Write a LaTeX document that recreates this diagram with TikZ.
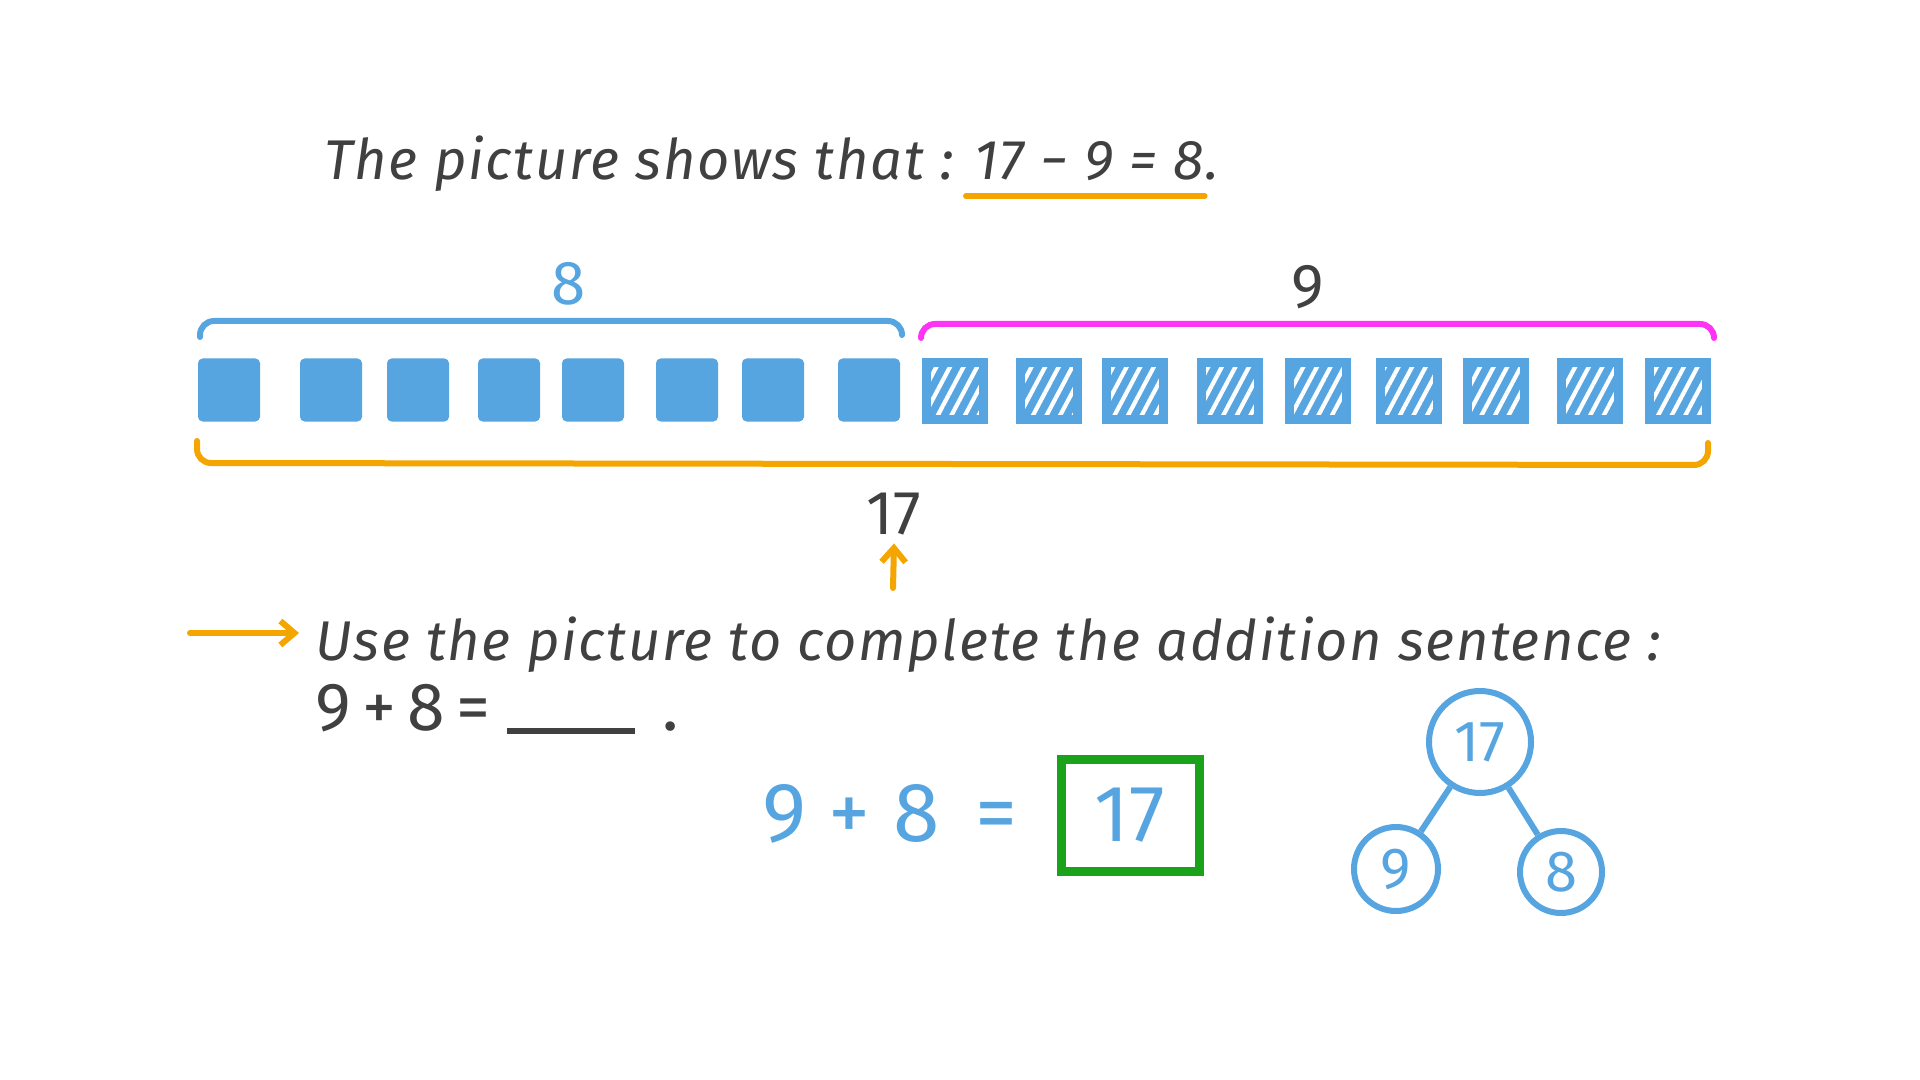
\documentclass[tikz,border=0pt]{standalone}
\usepackage{fontspec}
\setmainfont{Fira Sans}
\newfontfamily\handfont[LetterSpace=3]{Fira Sans}
\usetikzlibrary{patterns.meta,arrows.meta}
\definecolor{ink}{HTML}{404040}
\definecolor{bl}{HTML}{57A5E0}
\definecolor{mag}{HTML}{FF33F5}
\definecolor{org}{HTML}{F5A500}
\definecolor{grn}{HTML}{1AA31A}
\tikzset{
  solidsq/.style={draw=bl, fill=bl, line width=2pt, rounded corners=1.5pt,
    minimum width=29pt, minimum height=29.5pt, inner sep=0pt},
  hatchsq/.style={fill=bl, minimum size=28.5pt, inner sep=0pt,
    postaction={pattern={Lines[angle=62,distance=6pt,line width=2.1pt]}, pattern color=white},
    postaction={draw=bl, line width=4.5pt, rounded corners=1.5pt}},
  brace/.style={line width=3pt, rounded corners=7pt, line cap=round},
  txt/.style={text=ink, font=\handfont\itshape\fontsize{28}{32}\selectfont, inner sep=0pt, anchor=base west},
  num/.style={font=\fontsize{31}{36}\selectfont, inner sep=0pt},
  ring/.style={circle, draw=bl, line width=3pt, text=bl, font=\fontsize{29}{32}\selectfont, inner sep=0pt},
  harrow/.style={org, line width=3pt, line cap=round, -{Straight Barb[length=7pt,width=12pt,line width=3pt]}}
}
\begin{document}
\begin{tikzpicture}[x=0.5pt,y=-0.5pt]
\useasboundingbox[fill=white] (0,0) rectangle (1920,1080);

% title
\node[txt] (t1) at (324,180) {The picture shows that :};
\node[txt, anchor=base west] (t2) at ([xshift=10pt]t1.base east) {17 − 9 = 8};
\node[txt, anchor=base west] (t3) at (t2.base east) {.};
\draw[org, line width=3pt, line cap=round] ([yshift=-8pt,xshift=-4pt]t2.base west) -- ([yshift=-8pt]t2.base east);

% labels over braces
\node[num, text=bl] (l8) at (569,284) {8};
\node[num, text=ink] (l9) at (1308,287) {9};

% braces
\coordinate (b1a) at (200,337); \coordinate (b1b) at (902,335);
\draw[brace, bl] (b1a) -- (200,321) -- (902,321) -- (b1b);
\coordinate (b2a) at (921,338); \coordinate (b2b) at (1714,338);
\draw[brace, mag] (b2a) -- (921,324) -- (1714,324) -- (b2b);
\coordinate (b3a) at (197,441); \coordinate (b3b) at (1708,443);
\draw[brace, org] (b3a) -- (197,463) -- (1708,465) -- (b3b);

% solid squares
\foreach \x [count=\i] in {229,331,418,509,593,687,773,869}
  \node[solidsq] (s\i) at (\x,390) {};
% hatched squares
\foreach \x [count=\i] in {955,1049,1135,1230,1318,1409,1496,1590,1678}
  \node[hatchsq] (h\i) at (\x,391) {};

% 17 and arrow
\node[num, text=ink] (l17) at (894,514) {17};
\coordinate (ua) at (893,588);
\draw[harrow] (ua) -- ([yshift=-4pt]l17.south);

% instruction
\coordinate (ra) at (190,633);
\node[txt] (u1) at (315,660) {Use the picture to complete the addition sentence :};
\draw[harrow] (ra) -- ([xshift=-8pt]u1.west |- ra);
\node[txt, font=\fontsize{34}{38}\selectfont] (u2) at (315,730) {9\,+\,8\,=\hspace{8pt}\rule[-2pt]{64pt}{3pt}\hspace{14pt}.};

% blue equation
\node[text=bl, font=\fontsize{42}{46}\selectfont, inner sep=0pt] (eq) at (890,814) {9 + 8 \,=};
\node[draw=grn, line width=4.5pt, minimum width=69pt, minimum height=56pt, text=bl,
  font=\fontsize{40}{46}\selectfont] (ans) at (1130,815) {17};

% number bond
\node[ring, minimum size=51pt] (c17) at (1480,742) {17};
\node[ring, minimum size=42pt] (c9) at (1396,869) {9};
\node[ring, minimum size=41pt] (c8) at (1561,872) {8};
\draw[bl, line width=3pt] (c17) -- (c9);
\draw[bl, line width=3pt] (c17) -- (c8);
\end{tikzpicture}
\end{document}
